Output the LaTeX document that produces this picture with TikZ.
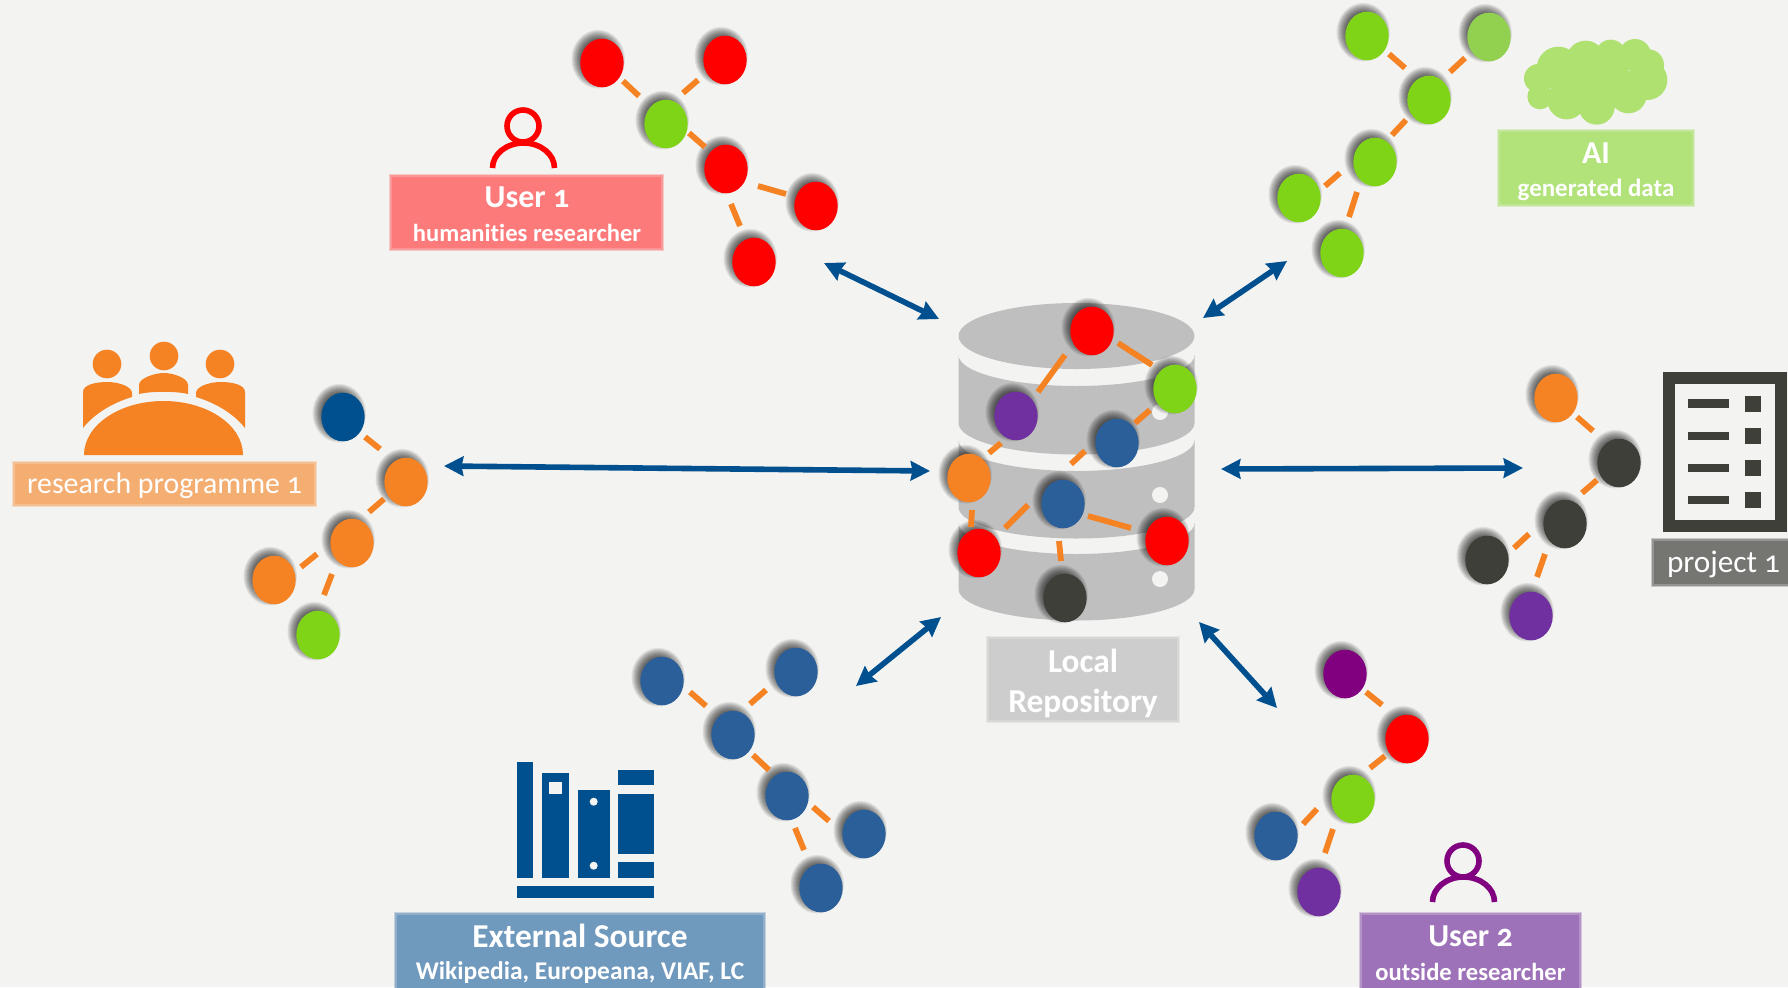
\documentclass[tikz,border=0pt]{standalone}
\usepackage{fontspec}
\setmainfont{Carlito}[Numbers=OldStyle,Ligatures=NoCommon]
\usetikzlibrary{shapes.geometric,arrows.meta}
\def\u{0.02cm}
\definecolor{bg}{HTML}{F3F3F1}
\definecolor{navy}{HTML}{00508F}
\definecolor{nred}{HTML}{FF0000}
\definecolor{ngreen}{HTML}{80D418}
\definecolor{nlgreen}{HTML}{92D050}
\definecolor{npurple}{HTML}{7030A0}
\definecolor{nmag}{HTML}{800080}
\definecolor{nblue}{HTML}{2B5F99}
\definecolor{norange}{HTML}{F58223}
\definecolor{ndark}{HTML}{3F3F39}
\definecolor{dbgrey}{HTML}{BFBFBF}
\definecolor{cloudc}{HTML}{AFE170}
\definecolor{lred}{HTML}{FD7A7A}
\definecolor{lgreen}{HTML}{B2E27A}
\definecolor{lorange}{HTML}{F5AE72}
\definecolor{lgrey}{HTML}{757672}
\definecolor{llocal}{HTML}{CDCDCD}
\definecolor{lblue}{HTML}{7099BE}
\definecolor{lpurple}{HTML}{9E72B8}
\newcommand{\fsz}[2]{\fontsize{#1pt}{#2pt}\selectfont}
% soft shadow + node: name, colour, x, y
\newcommand{\gn}[4]{%
  \foreach \k in {-4,-3,...,5}{\fill[black,opacity=.08] (#3-3.8,#4-3.8) ellipse[x radius={(21.7+\k)*\u},y radius={(24.3+\k)*\u}];}
  \node[gnode=#2] (#1) at (#3,#4) {};}
% connector: node a + offset, node b + offset
\newcommand{\lnk}[6]{\draw[edge] ([shift={(#2,#3)}]#1.center) -- ([shift={(#5,#6)}]#4.center);}
\tikzset{
  gnode/.style={ellipse,inner sep=0pt,minimum width=43.4*\u,minimum height=48.6*\u,fill=#1},
  edge/.style={draw=norange,line width=5.8*\u},
  arr/.style={draw=navy,line width=5.6*\u,{Stealth[length=11pt,width=11pt,inset=1pt]}-{Stealth[length=11pt,width=11pt,inset=1pt]}},
  lab/.style={rectangle,inner sep=0pt,fill=#1,draw=#1!75!bg,line width=1.5*\u,
     preaction={draw=#1!35!bg,line width=3.5*\u}},
  labtext/.style={inner sep=0pt,text=white,align=center},
  person/.style={line width=5.6*\u,fill=none},
}
\begin{document}
\begin{tikzpicture}[x=0.02cm,y=-0.02cm]
\useasboundingbox (0,0) rectangle (1788,987);
\fill[bg] (0,0) rectangle (1788,987);

%% database
\fill[dbgrey] (958.5,336) arc[start angle=180,end angle=-180,x radius=118*\u,y radius=33*\u];
\foreach \yt/\yb in {355/423,440/507,523/589}{
  \fill[dbgrey] (958.5,\yt) arc[start angle=180,end angle=360,x radius=118*\u,y radius=31*\u]
     -- (1194.5,\yb) arc[start angle=0,end angle=-180,x radius=118*\u,y radius=31.5*\u] -- cycle;
}
\foreach \yy in {412,495,579}{\fill[bg] (1160,\yy) circle[radius=8*\u];}

%% central graph
\gn{c1}{nred}{1092}{331}
\gn{c2}{ngreen}{1175}{389}
\gn{c3}{npurple}{1016}{416}
\gn{c4}{nblue}{1117}{443}
\gn{c5}{norange}{969}{478}
\gn{c6}{nblue}{1063}{504}
\gn{c7}{nred}{1167}{541}
\gn{c8}{nred}{979}{553}
\gn{c9}{ndark}{1065}{598}
\lnk{c1}{-27}{24}{c3}{22}{-24}
\lnk{c1}{26}{12}{c2}{-23}{-24}
\lnk{c2}{-25}{21}{c4}{18}{-20}
\lnk{c4}{-32}{8}{c6}{8}{-40}
\lnk{c3}{-15}{27}{c5}{20}{-25}
\lnk{c5}{3}{32}{c8}{-8}{-26}
\lnk{c6}{-35}{1}{c8}{26}{-25}
\lnk{c6}{25}{12}{c7}{-36}{-13}
\lnk{c6}{-4}{37}{c9}{-4}{-37}

%% user 1 graph
\gn{a1}{nred}{602}{63}
\gn{a2}{nred}{725}{60}
\gn{a3}{ngreen}{666}{124}
\gn{a4}{nred}{726}{169}
\gn{a5}{nred}{816}{206}
\gn{a6}{nred}{754}{262}
\lnk{a1}{21}{18}{a3}{-27}{-28}
\lnk{a2}{-27}{20}{a3}{17}{-31}
\lnk{a3}{23}{9}{a4}{-21}{-22}
\lnk{a4}{32}{17}{a5}{-30}{-12}
\lnk{a4}{5}{35}{a6}{-14}{-36}

%% AI graph
\gn{b1}{ngreen}{1367}{36}
\gn{b2}{nlgreen}{1489}{37}
\gn{b3}{ngreen}{1429}{100}
\gn{b4}{ngreen}{1375}{162}
\gn{b5}{ngreen}{1299}{198}
\gn{b6}{ngreen}{1342}{253}
\lnk{b1}{22}{18}{b3}{-24}{-32}
\lnk{b2}{-24}{21}{b3}{21}{-28}
\lnk{b3}{-23}{20}{b4}{17}{-27}
\lnk{b4}{-35}{11}{b5}{26}{-12}
\lnk{b4}{-18}{30}{b6}{7}{-36}

%% programme graph
\gn{d1}{navy}{343}{417}
\gn{d2}{norange}{406}{482}
\gn{d3}{norange}{352}{543}
\gn{d4}{norange}{274}{580}
\gn{d5}{ngreen}{318}{635}
\lnk{d1}{22}{20}{d2}{-26}{-33}
\lnk{d2}{-22}{17}{d3}{17}{-31}
\lnk{d3}{-35}{11}{d4}{27}{-13}
\lnk{d3}{-20}{31}{d5}{6}{-40}

%% project graph
\gn{e1}{norange}{1556}{398}
\gn{e2}{ndark}{1619}{463}
\gn{e3}{ndark}{1565}{524}
\gn{e4}{ndark}{1487}{560}
\gn{e5}{npurple}{1531}{616}
\lnk{e1}{21}{19}{e2}{-26}{-32}
\lnk{e2}{-22}{17}{e3}{17}{-31}
\lnk{e3}{-36}{10}{e4}{27}{-12}
\lnk{e3}{-20}{30}{e5}{6}{-39}

%% external graph
\gn{f1}{nblue}{662}{681}
\gn{f2}{nblue}{796}{672}
\gn{f3}{nblue}{733}{735}
\gn{f4}{nblue}{787}{796}
\gn{f5}{nblue}{864}{834}
\gn{f6}{nblue}{821}{888}
\lnk{f1}{28}{11}{f3}{-27}{-29}
\lnk{f2}{-30}{18}{f3}{17}{-31}
\lnk{f3}{20}{20}{f4}{-18}{-26}
\lnk{f4}{26}{11}{f5}{-35}{-13}
\lnk{f4}{8}{32}{f6}{-17}{-38}

%% user 2 graph
\gn{g1}{nmag}{1345}{674}
\gn{g2}{nred}{1407}{739}
\gn{g3}{ngreen}{1353}{799}
\gn{g4}{nblue}{1276}{836}
\gn{g5}{npurple}{1319}{892}
\lnk{g1}{21}{18}{g2}{-25}{-34}
\lnk{g2}{-22}{17}{g3}{17}{-31}
\lnk{g3}{-36}{10}{g4}{27}{-12}
\lnk{g3}{-20}{30}{g5}{6}{-39}

%% arrows
\coordinate (p1a) at (824,263); \coordinate (p1b) at (939,319);
\coordinate (p2a) at (1287,261); \coordinate (p2b) at (1203,318);
\coordinate (p3a) at (444,466); \coordinate (p3b) at (930,471);
\coordinate (p4a) at (1221,469); \coordinate (p4b) at (1523,468);
\coordinate (p5a) at (941,617); \coordinate (p5b) at (856,686);
\coordinate (p6a) at (1199,622); \coordinate (p6b) at (1277,708);
\draw[arr] (p1a) -- (p1b);
\draw[arr] (p2a) -- (p2b);
\draw[arr] (p3a) -- (p3b);
\draw[arr] (p4a) -- (p4b);
\draw[arr] (p5a) -- (p5b);
\draw[arr] (p6a) -- (p6b);

%% user icons
\draw[person,draw=nred] (523,126) circle[radius=16*\u];
\draw[person,draw=nred] (492.5,168) arc[start angle=180,end angle=0,x radius=31*\u,y radius=25*\u];
\draw[person,draw=nmag] (1463,861) circle[radius=16*\u];
\draw[person,draw=nmag] (1432.5,902) arc[start angle=180,end angle=0,x radius=31*\u,y radius=25*\u];

%% meeting icon
\fill[norange] (107,364) circle[radius=14.3*\u] (164,356) circle[radius=14.3*\u] (220,364) circle[radius=14.3*\u];
\fill[norange] (84,455) arc[start angle=180,end angle=0,x radius=79.5*\u,y radius=54*\u] -- cycle;
\fill[norange] (139,394) -- (139,385) .. controls (139,378) and (155,373) .. (164,373) .. controls (173,373) and (188,378) .. (188,385) -- (188,394) .. controls (175,391) and (152,391) .. (139,394) -- cycle;
\fill[norange] (83,428) -- (83,392) .. controls (83,385) and (95,382) .. (107,382) .. controls (120,382) and (132,387) .. (132,393) -- (132,397) .. controls (112,403) and (94,414) .. (83,428) -- cycle;
\fill[norange] (245,428) -- (245,392) .. controls (245,385) and (233,382) .. (221,382) .. controls (208,382) and (196,387) .. (196,393) -- (196,397) .. controls (216,403) and (234,414) .. (245,428) -- cycle;

%% books icon
\fill[navy] (517.3,761.7) rectangle (533.3,877.7);
\fill[navy] (541.7,773.3) rectangle (569.3,877.7);
\fill[bg] (549.3,781.7) rectangle (561.7,793.7);
\fill[navy] (577.7,789.7) rectangle (610,877.7);
\fill[bg] (593.7,801.7) circle[radius=4*\u] (593.7,865.7) circle[radius=4*\u];
\fill[navy] (617.7,769.7) rectangle (654.3,785.3);
\fill[navy] (617.7,793.7) rectangle (654.3,853.7);
\fill[navy] (617.7,862) rectangle (654.3,877.7);
\fill[navy] (517.3,885.7) rectangle (654.3,897.7);

%% project icon
\fill[ndark] (1662.7,371.7) rectangle (1786.7,531.7);
\fill[bg] (1674.7,383.7) rectangle (1774.7,519.7);
\foreach \ya/\yb/\yc/\yd in {399.3/407.7/395.7/411.7,431.7/440/427.7/443.7,463.7/471.7/459.7/475.7,495.7/504/491.7/507.7}{
  \fill[ndark] (1688.3,\ya) rectangle (1728.7,\yb);
  \fill[ndark] (1744.7,\yc) rectangle (1760.7,\yd);
}

%% cloud
\foreach \cx/\cy/\cr in {355/205/65,437/180/58,512/165/46,585/165/48,625/195/47,622/240/60,565/285/55,470/320/54,380/300/58,300/290/38,295/235/43,470/240/100}{
  \fill[cloudc] ({1440+\cx/3},{\cy/3}) circle[radius=\cr/3*\u];
}

%% labels
\node[lab=lred,minimum width=271*\u,minimum height=73*\u] (l1) at (526.5,212.5) {};
\node[labtext,font=\fsz{14}{19.2}] (t1) at (527,214) {\fsz{18.2}{19.2}\bfseries User 1\\\fsz{14}{19.2}\bfseries humanities researcher};
\node[lab=lgreen,minimum width=194*\u,minimum height=74*\u] (l2) at (1596,168) {};
\node[labtext,font=\fsz{14.2}{19}] (t2) at (1596,171.5) {\fsz{18.2}{19}\bfseries AI\\\fsz{14.2}{19}\bfseries generated data};
\node[lab=lorange,minimum width=301*\u,minimum height=42*\u] (l3) at (164.5,484) {};
\node[labtext,font=\fsz{17}{20}] (t3) at (164.5,486) {research programme 1};
\node[lab=lgrey,minimum width=138*\u,minimum height=45*\u] (l4) at (1722,562.5) {};
\node[labtext,font=\fsz{17.8}{20}] (t4) at (1723.5,564.5) {project 1};
\node[lab=llocal,minimum width=190*\u,minimum height=83*\u] (l5) at (1083,679.5) {};
\node[labtext,font=\fsz{19}{22.8}] (t5) at (1083,683) {\bfseries Local\\\bfseries Repository};
\node[lab=lblue,minimum width=368*\u,minimum height=76*\u] (l6) at (580,952) {};
\node[labtext,font=\fsz{14.5}{18.3}] (t6) at (580,954) {\fsz{19}{18.3}\bfseries External Source\\\fsz{14.5}{18.3}\bfseries Wikipedia, Europeana, VIAF, LC};
\node[lab=lpurple,minimum width=219*\u,minimum height=76*\u] (l7) at (1470.5,952) {};
\node[labtext,font=\fsz{14}{19.2}] (t7) at (1470.5,953) {\fsz{18.2}{19.2}\bfseries User 2\\\fsz{14}{19.2}\bfseries outside researcher};
\end{tikzpicture}
\end{document}
